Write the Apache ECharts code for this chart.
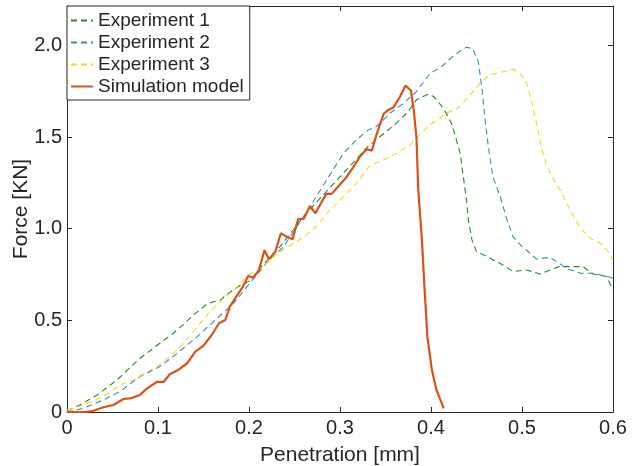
<!DOCTYPE html>
<html>
<head>
<meta charset="utf-8">
<script src="https://cdn.jsdelivr.net/npm/echarts@6/dist/echarts.min.js"></script>
<style>html,body{margin:0;padding:0;background:#fff}#c{width:632px;height:466px}</style>
</head>
<body>
<div id="c"></div>
<script>
var seriesNames = ['Experiment 1', 'Experiment 2', 'Experiment 3', 'Simulation model'];
var xTickLabels = ['0', '0.1', '0.2', '0.3', '0.4', '0.5', '0.6'];
var yTickLabels = ['0', '0.5', '1.0', '1.5', '2.0'];

var exp1X = [0, 0.014, 0.033, 0.055, 0.078, 0.102, 0.117, 0.139, 0.154, 0.161, 0.168, 0.175, 0.190, 0.201, 0.212, 0.234, 0.260, 0.285, 0.307, 0.320, 0.331, 0.351, 0.362, 0.375, 0.384, 0.397, 0.403, 0.414, 0.423, 0.432, 0.439, 0.441, 0.445, 0.450, 0.465, 0.479, 0.490, 0.505, 0.520, 0.531, 0.540, 0.556, 0.567, 0.578, 0.593, 0.600];
var exp1Y = [0.007, 0.038, 0.093, 0.175, 0.284, 0.375, 0.430, 0.529, 0.590, 0.602, 0.608, 0.639, 0.690, 0.715, 0.785, 0.902, 1.066, 1.203, 1.321, 1.390, 1.450, 1.530, 1.576, 1.639, 1.703, 1.734, 1.721, 1.655, 1.570, 1.412, 1.157, 1.048, 0.939, 0.875, 0.839, 0.802, 0.766, 0.775, 0.753, 0.775, 0.793, 0.793, 0.793, 0.753, 0.739, 0.666];

var exp2X = [0, 0.018, 0.040, 0.058, 0.080, 0.102, 0.121, 0.143, 0.161, 0.183, 0.201, 0.219, 0.238, 0.269, 0.289, 0.304, 0.318, 0.331, 0.340, 0.355, 0.370, 0.384, 0.399, 0.412, 0.425, 0.439, 0.446, 0.452, 0.456, 0.459, 0.463, 0.468, 0.476, 0.483, 0.490, 0.500, 0.509, 0.516, 0.531, 0.538, 0.549, 0.564, 0.578, 0.597, 0.600];
var exp2Y = [0, 0.020, 0.066, 0.111, 0.193, 0.248, 0.320, 0.411, 0.493, 0.593, 0.703, 0.812, 0.902, 1.135, 1.295, 1.412, 1.485, 1.539, 1.557, 1.630, 1.685, 1.748, 1.848, 1.885, 1.945, 1.990, 1.982, 1.910, 1.765, 1.612, 1.448, 1.284, 1.175, 1.057, 0.957, 0.902, 0.866, 0.834, 0.844, 0.820, 0.784, 0.757, 0.757, 0.735, 0.730];

var exp3X = [0, 0.018, 0.040, 0.058, 0.073, 0.088, 0.102, 0.121, 0.139, 0.157, 0.172, 0.186, 0.197, 0.212, 0.229, 0.258, 0.274, 0.289, 0.304, 0.318, 0.333, 0.348, 0.359, 0.377, 0.384, 0.399, 0.417, 0.430, 0.443, 0.454, 0.465, 0.478, 0.490, 0.498, 0.505, 0.511, 0.516, 0.521, 0.527, 0.535, 0.542, 0.549, 0.556, 0.564, 0.575, 0.586, 0.595, 0.600];
var exp3Y = [0.011, 0.038, 0.084, 0.147, 0.175, 0.220, 0.257, 0.338, 0.438, 0.548, 0.620, 0.675, 0.742, 0.779, 0.857, 0.948, 1.012, 1.103, 1.175, 1.248, 1.345, 1.376, 1.403, 1.457, 1.494, 1.567, 1.630, 1.658, 1.730, 1.794, 1.840, 1.855, 1.870, 1.848, 1.794, 1.685, 1.576, 1.448, 1.348, 1.266, 1.212, 1.139, 1.075, 1.003, 0.948, 0.921, 0.875, 0.830];

var simX = [0, 0.020, 0.029, 0.040, 0.051, 0.062, 0.071, 0.080, 0.088, 0.099, 0.106, 0.113, 0.122, 0.132, 0.141, 0.150, 0.159, 0.167, 0.174, 0.179, 0.186, 0.193, 0.199, 0.205, 0.211, 0.217, 0.222, 0.229, 0.235, 0.241, 0.248, 0.254, 0.260, 0.267, 0.273, 0.279, 0.285, 0.291, 0.298, 0.307, 0.315, 0.322, 0.329, 0.335, 0.340, 0.348, 0.353, 0.359, 0.366, 0.372, 0.378, 0.381, 0.384, 0.386, 0.390, 0.393, 0.396, 0.401, 0.406, 0.414];
var simY = [0, 0, 0.007, 0.026, 0.038, 0.071, 0.076, 0.093, 0.129, 0.165, 0.164, 0.206, 0.229, 0.266, 0.329, 0.362, 0.420, 0.484, 0.502, 0.575, 0.629, 0.681, 0.742, 0.733, 0.775, 0.883, 0.834, 0.875, 0.975, 0.957, 0.943, 1.053, 1.053, 1.124, 1.084, 1.139, 1.190, 1.190, 1.230, 1.281, 1.339, 1.394, 1.434, 1.426, 1.512, 1.627, 1.648, 1.663, 1.721, 1.781, 1.754, 1.648, 1.500, 1.212, 0.939, 0.666, 0.411, 0.229, 0.120, 0.020];

function pairs(xs, ys) { return xs.map(function (x, i) { return [x, ys[i]]; }); }

var FONT = 'Liberation Sans, Arial, Helvetica, sans-serif';
var AX = '#262626';
var chart = echarts.init(document.getElementById('c'), null, { renderer: 'canvas' });

function xAxisCfg(pos, showLabel) {
  return {
    type: 'value', position: pos, min: 0, max: 0.6, interval: 0.1,
    name: showLabel ? 'Penetration [mm]' : '', nameLocation: 'middle', nameGap: 33,
    nameTextStyle: { fontFamily: FONT, fontSize: 21, color: AX },
    axisLine: { show: true, onZero: false, lineStyle: { color: AX, width: 1 } },
    axisTick: { show: true, inside: true, length: 5, lineStyle: { color: AX } },
    axisLabel: { show: showLabel, margin: 6, fontFamily: FONT, fontSize: 20, color: AX,
      formatter: function (v) { return xTickLabels[Math.round(v * 10)]; } },
    splitLine: { show: false }
  };
}
function yAxisCfg(pos, showLabel) {
  return {
    type: 'value', position: pos, min: 0, max: 2.215, interval: 0.5,
    name: showLabel ? 'Force [KN]' : '', nameLocation: 'middle', nameGap: 35,
    nameMoveOverlap: false,
    nameTextStyle: { fontFamily: FONT, fontSize: 21, color: AX },
    axisLine: { show: true, onZero: false, lineStyle: { color: AX, width: 1 } },
    axisTick: { show: true, inside: true, length: 5, lineStyle: { color: AX } },
    axisLabel: { show: showLabel, margin: 5, fontFamily: FONT, fontSize: 20, color: AX, showMaxLabel: false,
      formatter: function (v) { var i = Math.round(v * 2); return yTickLabels[i] !== undefined ? yTickLabels[i] : ''; } },
    splitLine: { show: false }
  };
}

var colors = ['#228B22', '#3389CC', '#FFD21A', '#D95319'];
var dataSets = [pairs(exp1X, exp1Y), pairs(exp2X, exp2Y), pairs(exp3X, exp3Y), pairs(simX, simY)];

var series = seriesNames.map(function (n, i) {
  var sim = i === 3;
  return {
    name: n, type: 'line', data: dataSets[i], xAxisIndex: 0, yAxisIndex: 0,
    symbol: 'none', showSymbol: false, smooth: false, animation: false, z: sim ? 5 : 3,
    lineStyle: { color: colors[i], width: sim ? 2.2 : 1.1, type: sim ? 'solid' : [6, 4] },
    itemStyle: { color: colors[i] }
  };
});

chart.setOption({
  animation: false,
  backgroundColor: '#fff',
  textStyle: { fontFamily: FONT },
  grid: { left: 67, right: 19, top: 6, bottom: 54, containLabel: false, outerBoundsMode: 'none' },
  xAxis: [xAxisCfg('bottom', true), xAxisCfg('top', false)],
  yAxis: [yAxisCfg('left', true), yAxisCfg('right', false)],
  legend: {
    orient: 'vertical', left: 67, top: 6,
    backgroundColor: '#fff', borderColor: AX, borderWidth: 1, borderRadius: 0,
    padding: [5, 6, 4, 3], itemGap: 3, itemWidth: 22, itemHeight: 14,
    itemStyle: { opacity: 0 },
    textStyle: { fontFamily: FONT, fontSize: 19, lineHeight: 19, color: AX },
    data: seriesNames
  },
  series: series
});
</script>
</body>
</html>
